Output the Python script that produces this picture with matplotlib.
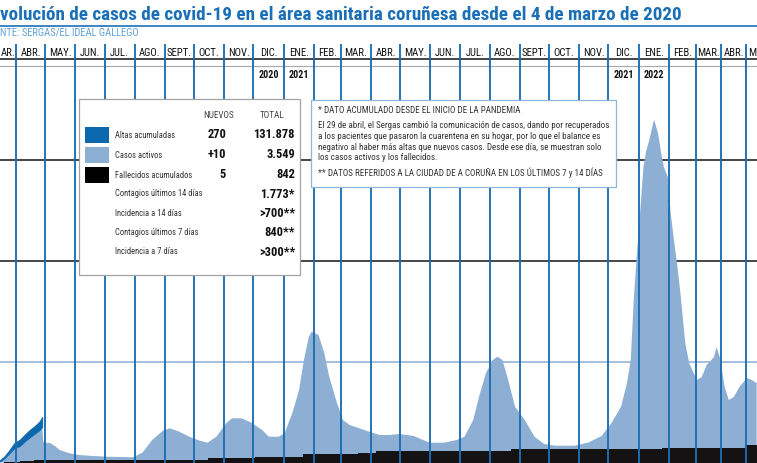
import numpy as np
import matplotlib
matplotlib.use("Agg")
import matplotlib.pyplot as plt
from matplotlib import font_manager
from matplotlib.transforms import Affine2D
from matplotlib.patches import Rectangle

# ---------------- data ----------------
# the picture is a crop: only the visible part of the title / source is shown
title = "volución de casos de covid-19 en el área sanitaria coruñesa desde el 4 de marzo de 2020"
source = "NTE: SERGAS/EL IDEAL GALLEGO"
month_names = ['ENE.', 'FEB.', 'MAR.', 'ABR.', 'MAY.', 'JUN.', 'JUL.', 'AGO.',
               'SEPT.', 'OCT.', 'NOV.', 'DIC.']
year_months = ['2020-12', '2021-01', '2021-12', '2022-01']
year_labels = ['2020', '2021', '2021', '2022']

active_dates = [
    '2020-03-04', '2020-03-15', '2020-03-20', '2020-03-25', '2020-03-30', '2020-04-05',
    '2020-04-10', '2020-04-15', '2020-04-20', '2020-04-25', '2020-04-28',
    '2020-04-29', '2020-05-03', '2020-05-06', '2020-05-11', '2020-05-16', '2020-05-26',
    '2020-06-05', '2020-06-19', '2020-07-03', '2020-07-17', '2020-07-30', '2020-08-09',
    '2020-08-19', '2020-08-30', '2020-09-06', '2020-09-16', '2020-09-26', '2020-10-07',
    '2020-10-15', '2020-10-24', '2020-11-03', '2020-11-09', '2020-11-19', '2020-11-29',
    '2020-12-10', '2020-12-17', '2020-12-27', '2021-01-02', '2021-01-10', '2021-01-17',
    '2021-01-22', '2021-01-27', '2021-01-30', '2021-02-06', '2021-02-12', '2021-02-17',
    '2021-02-24', '2021-03-03', '2021-03-10', '2021-03-20', '2021-03-30', '2021-04-10',
    '2021-04-20', '2021-04-30', '2021-05-15', '2021-05-31', '2021-06-15', '2021-06-28',
    '2021-07-06', '2021-07-15', '2021-07-21', '2021-07-28', '2021-08-04', '2021-08-09',
    '2021-08-14', '2021-08-20', '2021-08-27', '2021-09-06', '2021-09-16', '2021-09-26',
    '2021-10-07', '2021-10-27', '2021-11-10', '2021-11-24', '2021-12-04', '2021-12-14',
    '2021-12-20', '2021-12-24', '2021-12-27', '2021-12-30', '2022-01-02', '2022-01-06',
    '2022-01-09', '2022-01-12', '2022-01-16', '2022-01-17', '2022-01-21', '2022-01-24',
    '2022-01-27', '2022-01-31', '2022-02-03', '2022-02-06', '2022-02-10', '2022-02-13',
    '2022-02-18', '2022-02-22', '2022-03-02', '2022-03-08', '2022-03-14', '2022-03-23',
    '2022-03-26', '2022-03-30', '2022-04-05', '2022-04-10', '2022-04-16', '2022-04-23',
    '2022-05-02', '2022-05-08', '2022-05-14']
active_values = [
    10, 40, 200, 450, 700, 820,
    1050, 1240, 1420, 1600, 1760,
    1030, 965, 965, 817, 619, 455,
    371, 322, 287, 272, 257, 485,
    1114, 1574, 1693, 1525, 1277, 1079,
    980, 1277, 1940, 2188, 2188, 1970,
    1609, 1277, 1277, 1445, 2435, 3589,
    5074, 6227, 6475, 6311, 5405, 4247,
    3094, 2104, 1856, 1693, 1525, 1361,
    1361, 1411, 1312, 980, 980, 1114,
    1277, 2104, 3257, 4415, 5074, 5237,
    5074, 4084, 2762, 2104, 1277, 916,
    832, 832, 980, 1312, 1940, 2762,
    3920, 5074, 8044, 10172, 12004, 14627,
    15469, 15964, 16805, 16954, 16310, 15370,
    14627, 14132, 12350, 11162, 9677, 8390,
    5915, 4925, 4084, 4232, 4826, 5222,
    5717, 5222, 3737, 3094, 3242, 3737,
    4183, 4084, 3935]
# cumulative discharges, shown only until 28 April 2020 (first 11 active dates)
altas_values = [20, 60, 100, 150, 250, 320, 330, 370, 380, 420, 500]

deaths_dates = ['2020-03-04', '2020-03-20', '2020-04-05', '2020-04-20', '2020-10-15',
                '2020-12-03', '2021-01-21', '2021-03-19', '2021-04-06', '2021-08-23',
                '2022-01-25', '2022-04-30', '2022-05-14']
deaths_values = [0, 10, 60, 140, 240, 290, 410, 490, 570, 670, 735, 842, 842]

grid_values = [5000, 10000, 15000, 20000]

legend_head = ['NUEVOS', 'TOTAL']
legend_labels = ['Altas acumuladas', 'Casos activos', 'Fallecidos acumulados',
                 'Contagios últimos 14 días', 'Incidencia a 14 días',
                 'Contagios últimos 7 días', 'Incidencia a 7 días']
legend_new = ['270', '+10', '5', '', '', '', '']
legend_total = ['131.878', '3.549', '842', '1.773*', '>700**', '840**', '>300**']
note_lines = [
    '* DATO ACUMULADO DESDE EL INICIO DE LA PANDEMIA',
    'El 29 de abril, el Sergas cambió la comunicación de casos, dando por recuperados',
    'a los pacientes que pasaron la cuarentena en su hogar, por lo que el balance es',
    'negativo al haber más altas que nuevos casos. Desde ese día, se muestran solo',
    'los casos activos y los fallecidos.',
    '** DATOS REFERIDOS A LA CIUDAD DE A CORUÑA EN LOS ÚLTIMOS 7 y 14 DÍAS']

# ---------------- styling ----------------
BLUE_TITLE = '#1a6fb7'
BLUE_LINE = '#1c6db2'
LIGHT = '#8cafd3'
DARK = '#0c68ae'
BLACK = '#141213'
SRC = '#62a2d9'

W, H = 757, 463
names = {f.name for f in font_manager.fontManager.ttflist}
NARROW = next((n for n in ['Roboto Condensed', 'Liberation Sans Narrow',
                           'Open Sans Condensed', 'Arial Narrow'] if n in names), 'Roboto')
FAM = [NARROW, 'DejaVu Sans']

fig = plt.figure(figsize=(W / 100, H / 100), dpi=100)
ax = fig.add_axes([0, 0, 1, 1])
ax.set_axis_off()

# pixel transform (origin top-left)
T = Affine2D().scale(1.0 / W, -1.0 / H).translate(0, 1) + ax.transAxes

# x scale: days since 2020-03-01; last months drawn compressed as in the original
BREAK, K = 730.0, 0.843
SLOPE, X0 = 0.9728, -14.16


def fwd(t):
    t = np.asarray(t, float)
    return np.where(t <= BREAK, t, BREAK + (t - BREAK) * K)


def inv(u):
    u = np.asarray(u, float)
    return np.where(u <= BREAK, u, BREAK + (u - BREAK) / K)


ax.set_xscale('function', functions=(fwd, inv))
ax.set_xlim(float(inv((0 - X0) / SLOPE)), float(inv((W - X0) / SLOPE)))

BASE_PX, GRID_PX = 462.5, 101.0
UNIT = 5000.0 / GRID_PX
ax.set_ylim(-(H - BASE_PX) * UNIT, BASE_PX * UNIT)


def to_days(ds):
    return (np.array(ds, dtype='datetime64[D]') - np.datetime64('2020-03-01')).astype(float)


def ypx(p):
    return (BASE_PX - p) * UNIT


def xpx(d):
    return X0 + SLOPE * float(fwd(d))


xa = to_days(active_dates)
va = np.array(active_values, float)
n_alt = len(altas_values)
xd = to_days(deaths_dates)
vd = np.array(deaths_values, float)

# gridlines
for g in grid_values:
    ax.axhline(g, color=LIGHT if g == grid_values[0] else BLACK, lw=1.1, zorder=1)
ax.plot([0, W], [65.7, 65.7], transform=T, color='#a8a8a8', lw=0.8, zorder=1)

# areas
ax.fill_between(xa, 0, va, color=LIGHT, lw=0, zorder=2)
ax.fill_between(xa[:n_alt], va[:n_alt], va[:n_alt] + np.array(altas_values), color=DARK,
                lw=0.6, edgecolor=DARK, zorder=2)
ax.fill_between(xd, 0, vd, step='post', color=BLACK, lw=0, zorder=3)

# month separators and labels
months = np.arange('2020-03', '2022-07', dtype='datetime64[M]')
mstarts = to_days(months.astype('datetime64[D]'))
ax.vlines(mstarts, ypx(H + 5), ypx(44), color=BLUE_LINE, lw=1.35, zorder=4)

fig.canvas.draw()
R = fig.canvas.get_renderer()


def wpx(t):
    return t.get_window_extent(R).width


def fit_group(texts, ref, target, maxsize):
    s = maxsize
    for t in texts:
        t.set_fontsize(s)
    w = wpx(ref)
    if w > target:
        s = maxsize * target / w
        for t in texts:
            t.set_fontsize(s)
    return s


mtexts = []
sept = None
edge = []
for i in range(len(months) - 1):
    a, b = fwd(mstarts[i]), fwd(mstarts[i + 1])
    xc = float(inv((a + b) / 2))
    name = month_names[int(months[i].astype(int)) % 12]
    left_px, right_px = xpx(mstarts[i]), xpx(mstarts[i + 1])
    if left_px < 0:
        # column cut by the left border: only the visible letters
        t = ax.text(0.3, 53, name[1:], transform=T, ha='left', va='center', family=FAM,
                    color='#111111', zorder=6)
    elif right_px > W:
        t = ax.text(left_px + 2.5, 53, name[0], transform=T, ha='left', va='center',
                    family=FAM, color='#111111', zorder=6)
    else:
        t = ax.text(xc, ypx(53), name, ha='center', va='center', family=FAM,
                    color='#111111', zorder=6)
    mtexts.append(t)
    if name == 'SEPT.':
        sept = t
fit_group(mtexts, sept, 25, 9)

ytexts = []
for ym, lab in zip(year_months, year_labels):
    m = np.datetime64(ym, 'M')
    a = fwd(to_days([m.astype('datetime64[D]')])[0])
    b = fwd(to_days([(m + 1).astype('datetime64[D]')])[0])
    xc = float(inv((a + b) / 2))
    ytexts.append(ax.text(xc, ypx(74.5), lab, ha='center', va='center', family=FAM,
                          weight='bold', color='#111111', zorder=6))
fit_group(ytexts, ytexts[0], 20, 8.5)

tt = ax.text(0.5, 20.5, title, transform=T, ha='left', va='baseline', family=FAM,
             weight='bold', color=BLUE_TITLE, zorder=6)
fit_group([tt], tt, 683, 16)
ax.plot([0, W], [25.5, 25.5], transform=T, color=BLUE_TITLE, lw=1.2, zorder=6)

st = ax.text(0.5, 35.5, source, transform=T, ha='left', va='baseline', family=FAM,
             color=SRC, zorder=6)
fit_group([st], st, 139, 8)

# legend box
ax.add_patch(Rectangle((79, 99), 221, 176, transform=T, facecolor='white',
                       edgecolor='#a3a3a3', lw=0.9, zorder=10))
hd = [ax.text(219, 115, legend_head[0], transform=T, ha='center', va='center',
              family=FAM, color='#444444', zorder=11),
      ax.text(272, 115, legend_head[1], transform=T, ha='center', va='center',
              family=FAM, color='#444444', zorder=11)]
fit_group(hd, hd[0], 31, 7)
row_y = [135, 155, 175, 194, 213.5, 232.5, 252]
sw_col = [DARK, LIGHT, '#000000']
for k, c in enumerate(sw_col):
    ax.add_patch(Rectangle((85, row_y[k] - 8.3), 24, 16.6, transform=T, facecolor=c,
                           lw=0, zorder=11))
labs, nums = [], []
for k, lab in enumerate(legend_labels):
    labs.append(ax.text(115, row_y[k], lab, transform=T, ha='left', va='center',
                        family=FAM, color='#333333', zorder=11))
    if legend_new[k]:
        nums.append(ax.text(226, row_y[k], legend_new[k], transform=T, ha='right',
                            va='center', family=FAM, weight='bold', color='#111111',
                            zorder=11))
    nums.append(ax.text(295, row_y[k], legend_total[k], transform=T, ha='right',
                        va='center', family=FAM, weight='bold', color='#111111',
                        zorder=11))
fit_group(labs, labs[3], 87, 7.6)
ref_num = [t for t in nums if t.get_text() == legend_total[0]][0]
fit_group(nums, ref_num, 42, 10)

# note box
ax.add_patch(Rectangle((311, 100), 305, 87, transform=T, facecolor='white',
                       edgecolor='#8fb5da', lw=0.9, zorder=10))
note_y = [110.7, 125.7, 136.5, 147.2, 157.6, 172.3]
nts = [ax.text(318, y, s, transform=T, ha='left', va='center', family=FAM,
               color='#333333', zorder=11) for s, y in zip(note_lines, note_y)]
fit_group(nts, nts[1], 289, 7.4)

fig.savefig('out.png', dpi=100)
